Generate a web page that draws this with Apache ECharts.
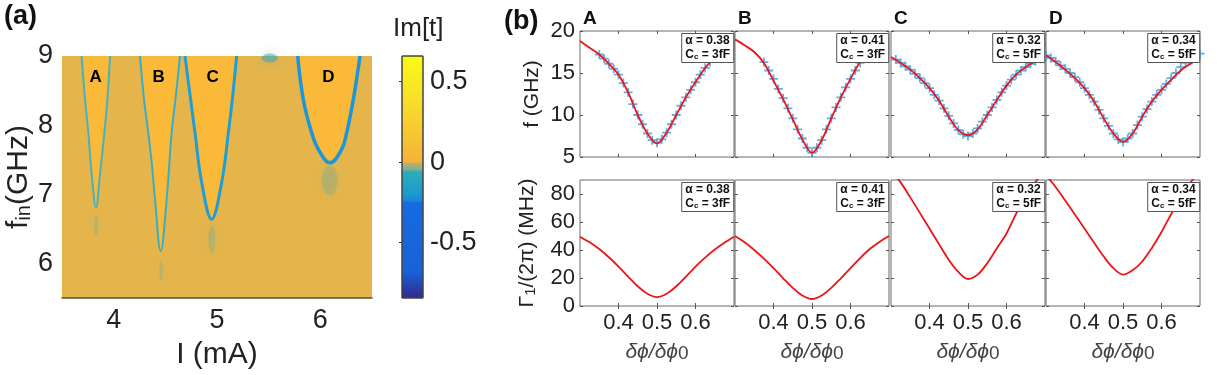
<!DOCTYPE html>
<html>
<head>
<meta charset="utf-8">
<script src="https://cdn.jsdelivr.net/npm/echarts@6/dist/echarts.min.js"></script>
<style>
html, body { margin: 0; padding: 0; background: #fff; }
#main { width: 1229px; height: 375px; }
</style>
</head>
<body>
<div id="main"></div>
<script>
// ---- (a) resonance dips, I (mA) vs f_in (GHz) ----
var dipA = [[3.690, 9.0], [3.723, 8.37], [3.755, 7.89], [3.787, 7.30], [3.829, 6.81], [3.868, 7.30], [3.910, 7.89], [3.939, 8.37], [3.965, 9.0]];
var dipB = [[4.255, 9.0], [4.294, 8.37], [4.335, 7.89], [4.372, 7.40], [4.400, 6.93], [4.455, 6.18], [4.513, 6.93], [4.561, 7.89], [4.600, 8.40], [4.642, 9.0]];
var dipC = [[4.690, 9.0], [4.745, 8.37], [4.787, 7.89], [4.852, 7.17], [4.948, 6.64], [5.045, 7.17], [5.110, 7.89], [5.148, 8.37], [5.190, 9.0]];
var dipD = [[5.781, 9.0], [5.835, 8.37], [5.916, 7.89], [5.981, 7.65], [6.094, 7.455], [6.206, 7.65], [6.255, 7.89], [6.319, 8.37], [6.384, 9.0]];
var dipNames = ['A', 'B', 'C', 'D'];
var dipLabelPos = [[3.826, 8.69], [4.435, 8.69], [4.958, 8.69], [6.077, 8.69]];
var hazePos = [[3.83, 6.55], [4.46, 5.9], [4.95, 6.35], [6.09, 7.2], [5.51, 8.97]];
var curTicks = [4, 5, 6];
var finTicks = [6, 7, 8, 9];
var cbTicks = [-0.5, 0, 0.5];
var cbMin = -0.845, cbMax = 0.66;

// ---- (b) flux dependence ----
var phiTicks = [0.4, 0.5, 0.6];
var phiFit = [0.30, 0.325, 0.35, 0.375, 0.40, 0.425, 0.45, 0.475, 0.50, 0.525, 0.55, 0.575, 0.60, 0.625, 0.65, 0.675, 0.70];
var fFitA = [18.8, 18.0, 17.2, 16.1, 14.8, 12.7, 10.0, 7.8, 6.6, 7.9, 10.0, 12.1, 13.9, 15.6, 16.9, 18.0, 18.8];
var fFitB = [19.0, 18.3, 17.5, 16.2, 14.1, 11.9, 9.5, 7.1, 5.5, 7.0, 9.6, 12.1, 14.3, 16.3, 17.5, 18.4, 19.0];
var fFitC = [16.9, 16.2, 15.4, 14.4, 13.2, 11.7, 9.8, 8.2, 7.6, 8.3, 10.0, 11.8, 13.5, 14.8, 15.7, 16.4, 17.0];
var fFitD = [17.1, 16.3, 15.4, 14.4, 13.2, 11.6, 9.6, 7.8, 6.8, 7.8, 9.8, 11.6, 13.0, 14.2, 15.3, 16.1, 16.8];
var gFitA = [49.5, 45.5, 40.7, 34.8, 28.2, 21.0, 14.1, 8.8, 6.4, 8.8, 14.1, 21.0, 28.2, 34.6, 40.3, 45.2, 49.5];
var gFitB = [50.0, 45.5, 40.0, 33.8, 27.0, 19.8, 13.0, 7.5, 5.0, 7.5, 13.0, 19.8, 27.0, 34.2, 40.7, 45.8, 50.0];
var gFitC = [96.5, 88.3, 77.6, 66.5, 55.3, 44.0, 33.0, 24.3, 19.3, 22.4, 30.6, 41.2, 51.8, 65.9, 78.0, 88.5, 96.5];
var gFitD = [93.5, 85.0, 75.3, 65.3, 55.3, 45.2, 35.3, 27.0, 22.4, 25.5, 31.8, 41.5, 52.9, 65.5, 77.5, 88.0, 97.0];

var phiMarks = [0.3000, 0.3125, 0.3250, 0.3375, 0.3500, 0.3625, 0.3750, 0.3875, 0.4000, 0.4125, 0.4250,
  0.4375, 0.4500, 0.4625, 0.4750, 0.4875, 0.5000, 0.5125, 0.5250, 0.5375, 0.5500, 0.5625,
  0.5750, 0.5875, 0.6000, 0.6125, 0.6250, 0.6375, 0.6500, 0.6625, 0.6750, 0.6875, 0.7000];
var fMarkA = [null, null, null, null, 17.2, 16.7, 16.1, 15.5, 14.8, 13.8, 12.7,
  11.3, 10.0, 8.9, 7.8, 7.0, 6.7, 7.1, 7.9, 8.9, 10.0, 11.1,
  12.1, 13.0, 13.9, 14.8, 15.6, 16.3, null, null, null, null, null];
var fMarkB = [null, null, null, null, null, null, 16.3, 15.3, 14.3, 13.1, 12.0,
  10.8, 9.6, 8.3, 7.2, 6.1, 5.5, 6.1, 7.0, 8.3, 9.6, 10.9,
  12.1, 13.3, 14.3, 15.3, 16.2, 17.0, null, null, null, null, null];
var fMarkC = [null, 16.6, 16.2, 15.8, 15.4, 14.9, 14.4, 13.8, 13.2, 12.4, 11.7,
  10.8, 9.9, 9.0, 8.2, 7.7, 7.5, 7.8, 8.4, 9.2, 10.0, 10.9,
  11.8, 12.7, 13.5, 14.2, 14.8, 15.3, 15.7, 16.1, 16.4, 16.7, null];
var fMarkD = [17.1, 16.8, 16.4, 15.9, 15.5, 15.0, 14.5, 13.9, 13.2, 12.4, 11.6,
  10.6, 9.6, 8.7, 7.8, 7.1, 6.8, 7.2, 7.8, 8.8, 9.8, 10.7,
  11.6, 12.4, 13.0, 13.7, 14.4, 15.0, 15.7, 16.2, 16.5, 16.9, 17.3];
var alphas = ['0.38', '0.41', '0.32', '0.34'];
var couplings = ['3fF', '3fF', '5fF', '5fF'];

var FONT = '"Liberation Sans", Arial, Helvetica, sans-serif';
var INK = '#222';

function zip(xs, ys) {
  var out = [];
  for (var i = 0; i < xs.length; i++) {
    if (ys[i] != null) out.push([xs[i], ys[i]]);
  }
  return out;
}

var chart = echarts.init(document.getElementById('main'), null, { renderer: 'canvas' });

var grids = [
  { left: 62, top: 56, width: 310, height: 243, show: true, backgroundColor: '#E5B54C', borderWidth: 0 },
  { left: 402, top: 56, width: 21, height: 242, show: false }
];
var xAxes = [
  {
    gridIndex: 0, type: 'value', min: 3.5, max: 6.5,
    axisLine: { show: true, lineStyle: { color: '#5c5030', width: 1.5 } },
    axisTick: { show: false }, splitLine: { show: false },
    axisLabel: { customValues: curTicks, fontSize: 27, color: INK, fontFamily: FONT, margin: 9 },
    name: 'I (mA)', nameLocation: 'middle', nameGap: 42,
    nameTextStyle: { fontSize: 30, color: INK, fontFamily: FONT }
  },
  { gridIndex: 1, type: 'value', min: 0, max: 1, show: false }
];
var yAxes = [
  {
    gridIndex: 0, type: 'value', min: 5.5, max: 9,
    axisLine: { show: false }, axisTick: { show: false }, splitLine: { show: false },
    axisLabel: { customValues: finTicks, fontSize: 27, color: INK, fontFamily: FONT, margin: 9 },
    name: '{a|f}{s|in}{a|(GHz)}', nameLocation: 'middle', nameGap: 28,
    nameTextStyle: {
      rich: {
        a: { fontSize: 30, color: INK, fontFamily: FONT, lineHeight: 34, verticalAlign: 'bottom' },
        s: { fontSize: 20, color: INK, fontFamily: FONT, lineHeight: 14, verticalAlign: 'bottom' }
      }
    }
  },
  {
    gridIndex: 1, type: 'value', min: cbMin, max: cbMax, position: 'right',
    axisLine: { show: false }, splitLine: { show: false },
    axisTick: { show: true, inside: true, length: 3, customValues: cbTicks, lineStyle: { color: '#333' } },
    axisLabel: { customValues: cbTicks, fontSize: 27, color: INK, fontFamily: FONT, margin: 7 }
  }
];

var series = [];

// faint haze below each dip minimum, plus the blob at the top edge
var hazeSize = [[4, 22], [4, 20], [7, 28], [16, 30], [16, 9]];
var hazeAlpha = [0.22, 0.22, 0.22, 0.22, 0.6];
series.push({
  type: 'scatter', xAxisIndex: 0, yAxisIndex: 0, z: 1, silent: true,
  data: hazePos.map(function (p, i) {
    return {
      value: p, symbolSize: hazeSize[i],
      itemStyle: { color: 'rgba(30,165,205,' + hazeAlpha[i] + ')', shadowBlur: 12, shadowColor: 'rgba(30,165,205,0.55)' }
    };
  })
});

var dips = [dipA, dipB, dipC, dipD];
var dipWidth = [2, 2, 3, 3.5];
var dipColor = ['#45B2C2', '#35AEC8', '#1E9ED6', '#1A97DB'];
dips.forEach(function (d, i) {
  series.push({
    type: 'line', xAxisIndex: 0, yAxisIndex: 0, z: 3, data: d,
    smooth: 0.4, symbol: 'none', silent: true,
    lineStyle: { color: dipColor[i], width: dipWidth[i] },
    areaStyle: { color: '#FBB93A', opacity: 1, origin: 'end' }
  });
});

// colour bar
var cmap = [
  [0.66, '#F9FB12'], [0.40, '#F8E02A'], [0.15, '#F7C432'], [0.0, '#F6B03A'],
  [-0.01, '#B4B06C'], [-0.045, '#86AE8E'], [-0.06, '#2DADB8'], [-0.2, '#1C9ACC'],
  [-0.24, '#1A86D8'], [-0.25, '#166BE0'], [-0.68, '#1862D8'], [-0.845, '#35288A']
];
var cbStops = cmap.map(function (c) {
  return { offset: (cbMax - c[0]) / (cbMax - cbMin), color: c[1] };
});
series.push({
  type: 'custom', xAxisIndex: 1, yAxisIndex: 1, silent: true,
  data: [[0, cbMin, cbMax]],
  renderItem: function (params, api) {
    var p0 = api.coord([0, api.value(2)]);
    var p1 = api.coord([1, api.value(1)]);
    return {
      type: 'rect',
      shape: { x: p0[0], y: p0[1], width: p1[0] - p0[0], height: p1[1] - p0[1] },
      style: { fill: new echarts.graphic.LinearGradient(0, 0, 0, 1, cbStops), stroke: '#444', lineWidth: 1 }
    };
  }
});

// (b) subplots
var subLeft = [580, 735, 891, 1046];
var subW = 154, subH = 126;
var rowTop = [31, 180];
var fFits = [fFitA, fFitB, fFitC, fFitD];
var fMarks = [fMarkA, fMarkB, fMarkC, fMarkD];
var gFits = [gFitA, gFitB, gFitC, gFitD];
var plus = 'path://M0,4H10V6H0ZM4,0H6V10H4Z';

var tickStyle = { show: true, inside: true, length: 3, lineStyle: { color: '#555', width: 1 } };
var titles = [
  { text: '(a)', left: 4, top: 3, padding: 0, textStyle: { fontSize: 27, fontWeight: 'bold', color: '#111', fontFamily: FONT } },
  { text: '(b)', left: 504, top: 8, padding: 0, textStyle: { fontSize: 27, fontWeight: 'bold', color: '#111', fontFamily: FONT } },
  { text: 'Im[t]', left: 393, top: 16, padding: 0, textStyle: { fontSize: 26, fontWeight: 'normal', color: INK, fontFamily: FONT } }
];

for (var row = 0; row < 2; row++) {
  for (var k = 0; k < 4; k++) {
    var g = grids.length;
    var xi = xAxes.length, yi = yAxes.length;
    var first = k === 0;
    var bottom = row === 1;
    var yMin = bottom ? 0 : 5, yMax = bottom ? 90 : 20;
    var yTicks = bottom ? [0, 20, 40, 60, 80] : [5, 10, 15, 20];
    grids.push({ left: subLeft[k], top: rowTop[row], width: subW, height: subH, show: true,
      borderColor: '#6a6a6a', borderWidth: 1, backgroundColor: '#fff' });

    xAxes.push({
      gridIndex: g, type: 'value', min: 0.3, max: 0.7, position: 'bottom',
      axisLine: { show: false }, splitLine: { show: false },
      axisTick: Object.assign({ customValues: phiTicks }, tickStyle),
      axisLabel: { show: bottom, customValues: phiTicks, fontSize: 22, color: INK, fontFamily: FONT, margin: 6 },
      name: bottom ? '{a|δϕ/δϕ}{s|0}' : '', nameLocation: 'middle', nameGap: 31,
      nameTextStyle: {
        rich: {
          a: { fontSize: 21, color: '#444', fontFamily: FONT, fontStyle: 'italic', lineHeight: 26, verticalAlign: 'bottom' },
          s: { fontSize: 19, color: '#444', fontFamily: FONT, lineHeight: 12, verticalAlign: 'bottom' }
        }
      }
    });
    xAxes.push({
      gridIndex: g, type: 'value', min: 0.3, max: 0.7, position: 'top',
      axisLine: { show: false }, splitLine: { show: false },
      axisTick: Object.assign({ customValues: phiTicks }, tickStyle),
      axisLabel: { show: false }
    });
    var yName = '';
    if (first) yName = bottom ? '{a|Γ}{s|1}{a|/(2π) (MHz)}' : '{a|f (GHz)}';
    yAxes.push({
      gridIndex: g, type: 'value', min: yMin, max: yMax, position: 'left',
      axisLine: { show: false }, splitLine: { show: false },
      axisTick: Object.assign({ customValues: yTicks }, tickStyle),
      axisLabel: { show: first, customValues: yTicks, fontSize: 22, color: INK, fontFamily: FONT, margin: 5 },
      name: yName, nameLocation: 'middle', nameGap: bottom ? 42 : 37,
      nameTextStyle: {
        rich: {
          a: { fontSize: 21, color: INK, fontFamily: FONT, lineHeight: 26, verticalAlign: 'bottom' },
          s: { fontSize: 15, color: INK, fontFamily: FONT, lineHeight: 10, verticalAlign: 'bottom' }
        }
      }
    });
    yAxes.push({
      gridIndex: g, type: 'value', min: yMin, max: yMax, position: 'right',
      axisLine: { show: false }, splitLine: { show: false },
      axisTick: Object.assign({ customValues: yTicks }, tickStyle),
      axisLabel: { show: false }
    });

    if (!bottom) {
      series.push({
        type: 'scatter', xAxisIndex: xi, yAxisIndex: yi, z: 2, silent: true,
        data: zip(phiMarks, fMarks[k]), symbol: plus, symbolSize: 9,
        itemStyle: { color: '#3C9ADA' }
      });
    }
    series.push({
      type: 'line', xAxisIndex: xi, yAxisIndex: yi, z: 3, silent: true,
      data: zip(phiFit, bottom ? gFits[k] : fFits[k]), smooth: 0.35, symbol: 'none',
      lineStyle: { color: '#EE1418', width: 1.8 }
    });

    titles.push({
      text: '{b|α = ' + alphas[k] + '}\n{b|C}{s|c}{b| = ' + couplings[k] + '}',
      right: 1229 - (subLeft[k] + subW), top: rowTop[row],
      padding: [2, 4, 2, 4], backgroundColor: '#fff', borderColor: '#555', borderWidth: 1,
      textStyle: {
        rich: {
          b: { fontSize: 12, fontWeight: 'bold', color: '#111', fontFamily: FONT, lineHeight: 14, verticalAlign: 'bottom' },
          s: { fontSize: 8, fontWeight: 'bold', color: '#111', fontFamily: FONT, lineHeight: 4, verticalAlign: 'bottom' }
        }
      }
    });
    if (!bottom) {
      titles.push({ text: dipNames[k], left: subLeft[k] + 3, top: 9, padding: 0,
        textStyle: { fontSize: 19, fontWeight: 'bold', color: '#111', fontFamily: FONT } });
    }
  }
}

chart.setOption({
  animation: false,
  backgroundColor: '#fff',
  title: titles,
  grid: grids,
  xAxis: xAxes,
  yAxis: yAxes,
  series: series
});

// dip letters placed through the heat-map axes
var letters = dipLabelPos.map(function (p, i) {
  var px = chart.convertToPixel({ xAxisIndex: 0, yAxisIndex: 0 }, p);
  return {
    type: 'text', x: px[0], y: px[1], z: 100, silent: true,
    style: { text: dipNames[i], align: 'center', verticalAlign: 'middle',
      fontSize: 17, fontWeight: 'bold', fontFamily: FONT, fill: '#000' }
  };
});
chart.setOption({ graphic: letters });
</script>
</body>
</html>
